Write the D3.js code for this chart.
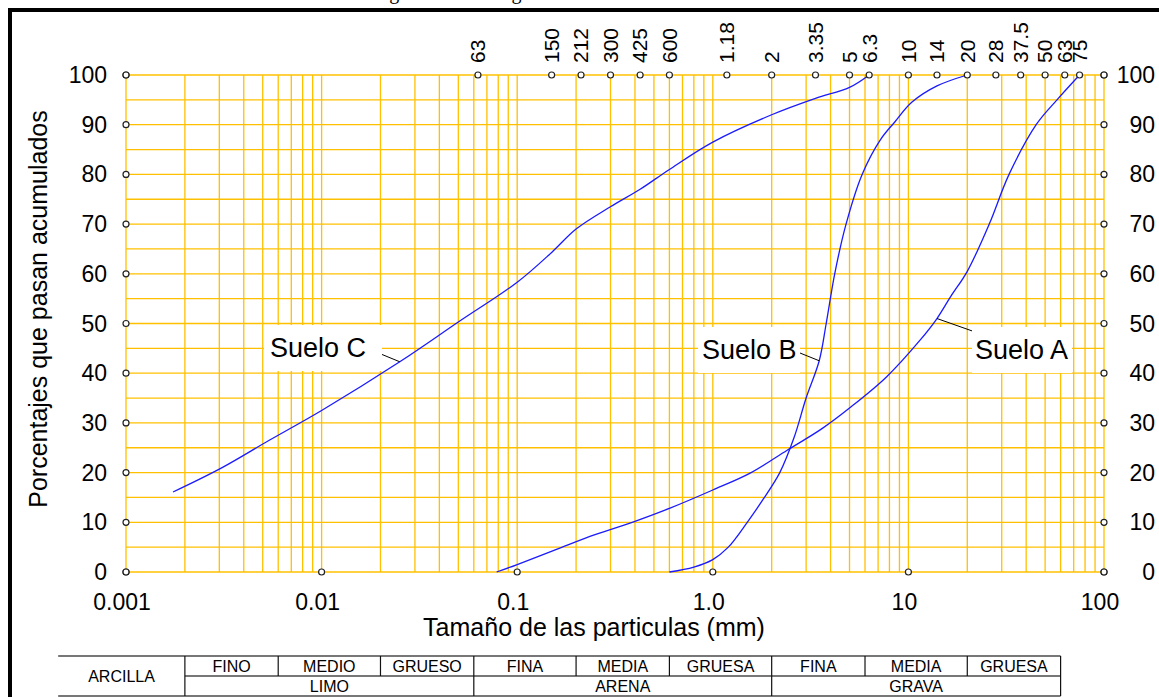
<!DOCTYPE html>
<html>
<head>
<meta charset="utf-8">
<script src="https://cdn.jsdelivr.net/npm/d3@7"></script>
<style>
  body { margin: 0; background: #fff; }
  svg { display: block; font-family: "Liberation Sans", Arial, sans-serif; }
</style>
</head>
<body>
<svg id="chart" width="1159" height="697"></svg>
<script>
// grading curves (size in mm, % passing)
const sizesA = [0.0785, 0.1, 0.16, 0.25, 0.4, 0.6, 1, 1.57, 2.4, 3.6, 5, 7.7, 11.5, 14, 16.5, 20, 25.9, 32.7, 45, 57.5, 75];
const passA  = [0, 1.5, 4.6, 7.5, 10.2, 12.8, 16.5, 20, 24.5, 28.8, 33, 39.2, 46.7, 51, 55.5, 60.5, 70, 80, 90, 95, 100];

const sizesB = [0.6, 0.8, 1.0, 1.2, 1.5, 1.8, 2.2, 2.6, 3.0, 3.5, 3.8, 4.2, 4.8, 5.8, 7.2, 8.5, 10.4, 14, 20];
const passB  = [0, 1, 2.5, 5, 10, 14.5, 20, 27, 35, 42.5, 50, 60, 70, 80, 87, 90.5, 94.5, 97.8, 100];

const sizesC = [0.00174, 0.0031, 0.0054, 0.01, 0.0251, 0.05, 0.1, 0.15, 0.2, 0.3, 0.425, 0.6, 1.0, 2, 3.35, 5, 6.3];
const passC  = [16.1, 21, 26.5, 32.5, 42.3, 50.3, 58.3, 64.3, 69, 73.5, 77, 81, 86.5, 92, 95.3, 97.5, 100];

// sieve sizes marked on top edge
const sieveSizes  = [0.001, 0.063, 0.15, 0.212, 0.3, 0.425, 0.6, 1.18, 2, 3.35, 5, 6.3, 10, 14, 20, 28, 37.5, 50, 63, 75, 100];
const sieveLabels = ["", "63", "150", "212", "300", "425", "600", "1.18", "2", "3.35", "5", "6.3", "10", "14", "20", "28", "37.5", "50", "63", "75", ""];

const bottomTicks = [0.001, 0.01, 0.1, 1, 10, 100];
const bottomLabels = ["0.001", "0.01", "0.1", "1.0", "10", "100"];
const pctTicks = [0, 10, 20, 30, 40, 50, 60, 70, 80, 90, 100];

// soil classification table
const classBounds = [0.00045, 0.002, 0.006, 0.02, 0.06, 0.2, 0.6, 2, 6, 20, 60];
const subNames = ["FINO", "MEDIO", "GRUESO", "FINA", "MEDIA", "GRUESA", "FINA", "MEDIA", "GRUESA"];
const groupNames = ["LIMO", "ARENA", "GRAVA"];
const groupBounds = [[0.002, 0.06], [0.06, 2], [2, 60]];

const svg = d3.select('#chart');
const x = d3.scaleLog().domain([0.001, 100]).range([126, 1104]);
const y = d3.scaleLinear().domain([0, 100]).range([572, 75]);

const gridColor = '#FFC000';

// outer frame
svg.append('rect').attr('x', 10).attr('y', 10).attr('width', 1200).attr('height', 760)
  .attr('fill', 'none').attr('stroke', '#000').attr('stroke-width', 4);

// title (mostly cut off by the window)
svg.append('text').attr('x', 560).attr('y', -1)
  .attr('text-anchor', 'middle')
  .style('font-family', '"Liberation Serif", "Times New Roman", serif')
  .style('font-size', '20px')
  .text('Figura 1. Curvas granulométricas de los suelos');

// grid
const vLines = [];
[0.001, 0.01, 0.1, 1, 10].forEach(d => { for (let k = 1; k <= 9; k++) vLines.push(d * k); });
vLines.push(100);
const grid = svg.append('g');
grid.selectAll('.vl').data(vLines).enter().append('line')
  .attr('x1', d => x(d)).attr('x2', d => x(d))
  .attr('y1', y(0)).attr('y2', y(100))
  .attr('stroke', gridColor).attr('stroke-width', 1.3);
grid.selectAll('.hl').data(d3.range(0, 101, 5)).enter().append('line')
  .attr('x1', x(0.001)).attr('x2', x(100))
  .attr('y1', d => y(d)).attr('y2', d => y(d))
  .attr('stroke', gridColor).attr('stroke-width', 1.3);

// curves
const line = d3.line().x(d => x(d[0])).y(d => y(d[1])).curve(d3.curveCatmullRom.alpha(0.5));
[[sizesA, passA], [sizesB, passB], [sizesC, passC]].forEach(([s, p]) => {
  svg.append('path').datum(s.map((v, i) => [v, p[i]]))
    .attr('d', line).attr('fill', 'none')
    .attr('stroke', '#1a1aff').attr('stroke-width', 1.3);
});

// curve labels
const labels = [
  { text: 'Suelo C', bx: 264, by: 325, w: 118, tx: 270, lx: 376, ly: 352, at: [0.0251, 42.3] },
  { text: 'Suelo B', bx: 698, by: 327, w: 102, tx: 702, lx: 800, ly: 353, at: [3.5, 42.5] },
  { text: 'Suelo A', bx: 972, by: 327, w: 100, tx: 975, lx: 978, ly: 333, at: [14, 51] }
];
labels.forEach(l => {
  svg.append('line').attr('x1', l.lx).attr('y1', l.ly)
    .attr('x2', x(l.at[0])).attr('y2', y(l.at[1]))
    .attr('stroke', '#000').attr('stroke-width', 1);
  svg.append('rect').attr('x', l.bx).attr('y', l.by).attr('width', l.w).attr('height', 46)
    .attr('fill', '#fff');
  svg.append('text').attr('x', l.tx).attr('y', l.by + 32)
    .style('font-size', '27px').attr('fill', '#000').text(l.text);
});

// marker circles
const marks = [];
pctTicks.forEach(p => { marks.push([0.001, p]); marks.push([100, p]); });
bottomTicks.forEach(t => marks.push([t, 0]));
sieveSizes.forEach(s => marks.push([s, 100]));
svg.selectAll('.mk').data(marks).enter().append('circle')
  .attr('cx', d => x(d[0])).attr('cy', d => y(d[1])).attr('r', 3)
  .attr('fill', '#fff').attr('stroke', '#222').attr('stroke-width', 1.2);

// y tick labels (both sides)
svg.selectAll('.yl').data(pctTicks).enter().append('text')
  .attr('x', 107).attr('y', d => y(d)).attr('dy', '0.35em')
  .attr('text-anchor', 'end').style('font-size', '23px').text(d => d);
svg.selectAll('.yr').data(pctTicks).enter().append('text')
  .attr('x', 1155).attr('y', d => y(d)).attr('dy', '0.35em')
  .attr('text-anchor', 'end').style('font-size', '23px').text(d => d);

// bottom tick labels
svg.selectAll('.xb').data(bottomTicks).enter().append('text')
  .attr('x', d => x(d) - 4).attr('y', 610)
  .attr('text-anchor', 'middle').style('font-size', '23px')
  .text((d, i) => bottomLabels[i]);

// top sieve labels
svg.selectAll('.xt').data(sieveSizes.filter((d, i) => sieveLabels[i] !== '')).enter().append('text')
  .attr('transform', d => `translate(${x(d)},63) rotate(-90)`)
  .attr('dy', '0.35em').style('font-size', '21px')
  .text(d => sieveLabels[sieveSizes.indexOf(d)]);

// axis titles
svg.append('text').attr('x', 594).attr('y', 636).attr('text-anchor', 'middle')
  .style('font-size', '25px').text('Tamaño de las particulas (mm)');
svg.append('text').attr('transform', 'translate(38,309) rotate(-90)')
  .attr('dy', '0.35em').attr('text-anchor', 'middle')
  .style('font-size', '25px').text('Porcentajes que pasan acumulados');

// classification table
const tTop = 656, tMid = 676, tBot = 696;
const tbl = svg.append('g');
const tx0 = x(classBounds[0]), tx1 = x(classBounds[classBounds.length - 1]);
tbl.append('line').attr('x1', tx0).attr('x2', tx1).attr('y1', tTop).attr('y2', tTop)
  .attr('stroke', '#777').attr('stroke-width', 2);
tbl.append('line').attr('x1', x(classBounds[1])).attr('x2', tx1).attr('y1', tMid).attr('y2', tMid)
  .attr('stroke', '#777').attr('stroke-width', 2);
tbl.append('line').attr('x1', tx0).attr('x2', tx1).attr('y1', tBot).attr('y2', tBot)
  .attr('stroke', '#777').attr('stroke-width', 2);
classBounds.slice(1).forEach(b => {
  const full = [0.002, 0.06, 2, 60].includes(b);
  tbl.append('line').attr('x1', x(b)).attr('x2', x(b))
    .attr('y1', tTop).attr('y2', full ? tBot : tMid)
    .attr('stroke', '#111').attr('stroke-width', 1.2);
});
subNames.forEach((n, i) => {
  tbl.append('text').attr('x', (x(classBounds[i + 1]) + x(classBounds[i + 2])) / 2)
    .attr('y', (tTop + tMid) / 2).attr('dy', '0.35em').attr('text-anchor', 'middle')
    .style('font-size', '16px').text(n);
});
groupNames.forEach((n, i) => {
  tbl.append('text').attr('x', (x(groupBounds[i][0]) + x(groupBounds[i][1])) / 2)
    .attr('y', (tMid + tBot) / 2).attr('dy', '0.35em').attr('text-anchor', 'middle')
    .style('font-size', '16px').text(n);
});
tbl.append('text').attr('x', (tx0 + x(classBounds[1])) / 2)
  .attr('y', (tTop + tBot) / 2).attr('dy', '0.35em').attr('text-anchor', 'middle')
  .style('font-size', '16px').text('ARCILLA');
</script>
</body>
</html>
